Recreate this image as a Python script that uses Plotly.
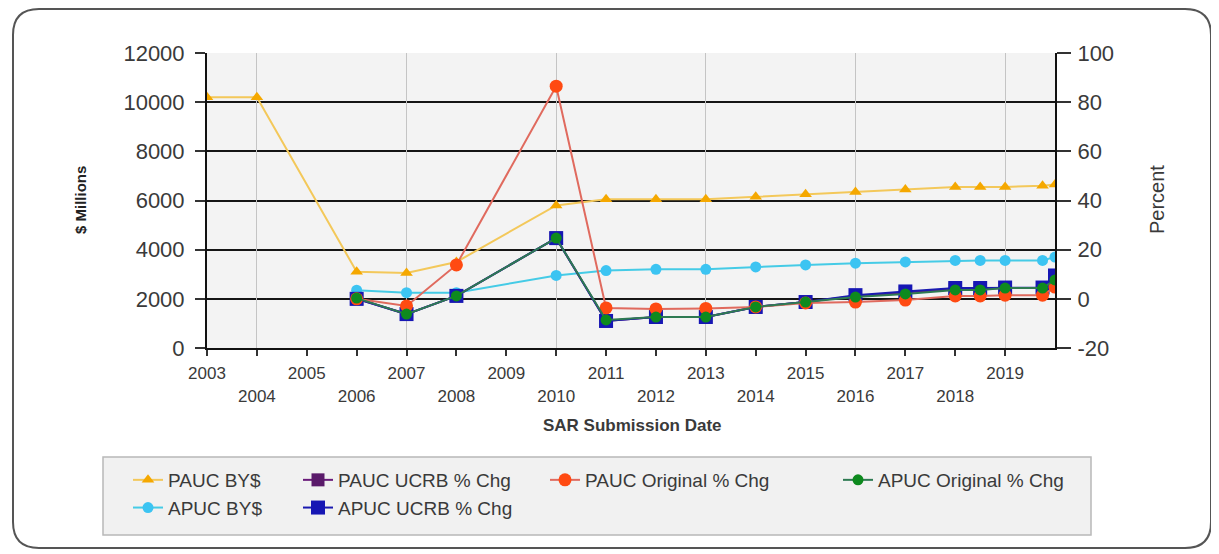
import plotly.graph_objects as go

# ---------------- data ----------------
tick_years = list(range(2003, 2020))
grid_years = [2004, 2007, 2010, 2013, 2016, 2019]

years_pauc = [2003, 2004, 2006, 2007, 2008, 2010, 2011, 2012, 2013, 2014, 2015, 2016, 2017, 2018, 2018.5, 2019, 2019.75, 2020]
pauc_bys = [10200, 10200, 3100, 3050, 3500, 5800, 6050, 6050, 6050, 6150, 6250, 6350, 6450, 6550, 6550, 6550, 6600, 6650]

years_other = [2006, 2007, 2008, 2010, 2011, 2012, 2013, 2014, 2015, 2016, 2017, 2018, 2018.5, 2019, 2019.75, 2020]
apuc_bys = [2350, 2250, 2250, 2950, 3150, 3200, 3200, 3300, 3380, 3450, 3500, 3560, 3560, 3560, 3560, 3700]
pauc_ucrb_pct = [0.0, -6.2, 1.2, 24.7, -9.0, -7.4, -7.4, -3.3, -1.3, 1.2, 2.6, 4.0, 4.0, 4.4, 4.4, 9.0]
apuc_ucrb_pct = [0.0, -6.2, 1.2, 24.7, -9.0, -7.4, -7.4, -3.3, -1.3, 1.5, 3.0, 4.4, 4.4, 4.6, 4.6, 9.5]
pauc_orig_pct = [0.0, -2.9, 13.8, 86.5, -3.7, -4.1, -3.9, -3.3, -1.7, -1.3, -0.5, 1.2, 1.2, 1.5, 1.5, 4.8]
apuc_orig_pct = [0.3, -6.2, 1.2, 24.7, -8.6, -7.4, -7.4, -3.3, -1.3, 0.7, 2.0, 3.6, 3.6, 4.4, 4.4, 7.7]

y_left_range = [0, 12000]
y_right_range = [-20, 100]
y_right_ticks = [-20, 0, 20, 40, 60, 80, 100]
y_right_labels = ["-20", "0", "20", "40", "60", "80", "100"]

# ---------------- figure geometry ----------------
OFF = 8                      # page body margin of the browser
W, H = 1219 - OFF, 554 - OFF
PL, PR, PT, PB = 207, 1055, 53, 348   # plot area in page pixels
PW, PH = PR - PL, PB - PT
L, T = PL - OFF, PT - OFF
R, B = W - (PR - OFF), H - (PB - OFF)


def px_x(p):
    return (p - PL) / PW


def px_y(p):
    return (PB - p) / PH


FONT = "Arial, Liberation Sans, sans-serif"
TXT = "#3a3a3a"

fig = go.Figure()

# dollar series (left axis)
fig.add_trace(go.Scatter(
    x=years_pauc, y=pauc_bys, name="PAUC BY$", mode="lines+markers",
    line=dict(color="#F3C85A", width=2),
    marker=dict(symbol="triangle-up", size=11, color="#F5A800"),
    legend="legend", xaxis="x", yaxis="y"))
fig.add_trace(go.Scatter(
    x=years_other, y=apuc_bys, name="APUC BY$", mode="lines+markers",
    line=dict(color="#45CBE6", width=2),
    marker=dict(symbol="circle", size=11, color="#3CC4F2"),
    legend="legend", xaxis="x", yaxis="y"))

# percent series (right axis)
fig.add_trace(go.Scatter(
    x=years_other, y=pauc_ucrb_pct, name="PAUC UCRB % Chg", mode="lines+markers",
    line=dict(color="#6A1B7A", width=2),
    marker=dict(symbol="square", size=13, color="#5A1A6A"),
    legend="legend2", xaxis="x", yaxis="y2"))
fig.add_trace(go.Scatter(
    x=years_other, y=apuc_ucrb_pct, name="APUC UCRB % Chg", mode="lines+markers",
    line=dict(color="#1A1AB0", width=2),
    marker=dict(symbol="square", size=14, color="#1616B4"),
    legend="legend2", xaxis="x", yaxis="y2"))
fig.add_trace(go.Scatter(
    x=years_other, y=pauc_orig_pct, name="PAUC Original % Chg", mode="lines+markers",
    line=dict(color="#E06A5E", width=2),
    marker=dict(symbol="circle", size=13, color="#FF4A12"),
    legend="legend3", xaxis="x", yaxis="y2"))
fig.add_trace(go.Scatter(
    x=years_other, y=apuc_orig_pct, name="APUC Original % Chg", mode="lines+markers",
    line=dict(color="#2E7A52", width=2),
    marker=dict(symbol="circle", size=11, color="#0E8A1E"),
    legend="legend4", xaxis="x", yaxis="y2"))

# empty helper trace so the overlay grid axis exists
fig.add_trace(go.Scatter(x=[], y=[], xaxis="x2", yaxis="y", showlegend=False, hoverinfo="skip"))

ticktext = [str(y) if i % 2 == 0 else "<br>" + str(y) for i, y in enumerate(tick_years)]

legend_common = dict(
    orientation="v", bgcolor="rgba(0,0,0,0)", borderwidth=0,
    font=dict(family=FONT, size=19, color=TXT),
    xanchor="left", yanchor="top", tracegroupgap=0, itemclick=False,
)
leg_y = px_y(461)

# outer rounded frame
fl, fr, ft, fb, rad = 13, 1211, 9, 548, 26
frame_path = (
    f"M {px_x(fl + rad)},{px_y(ft)} L {px_x(fr - rad)},{px_y(ft)} "
    f"Q {px_x(fr)},{px_y(ft)} {px_x(fr)},{px_y(ft + rad)} "
    f"L {px_x(fr)},{px_y(fb - rad)} Q {px_x(fr)},{px_y(fb)} {px_x(fr - rad)},{px_y(fb)} "
    f"L {px_x(fl + rad)},{px_y(fb)} Q {px_x(fl)},{px_y(fb)} {px_x(fl)},{px_y(fb - rad)} "
    f"L {px_x(fl)},{px_y(ft + rad)} Q {px_x(fl)},{px_y(ft)} {px_x(fl + rad)},{px_y(ft)} Z"
)

fig.update_layout(
    width=W, height=H,
    margin=dict(l=L, r=R, t=T, b=B, autoexpand=False),
    paper_bgcolor="white",
    plot_bgcolor="#F3F3F3",
    font=dict(family=FONT, color=TXT),
    xaxis=dict(
        range=[2003, 2020], tickmode="array", tickvals=tick_years, ticktext=ticktext,
        showgrid=False, zeroline=False,
        showline=True, linecolor="#111111", linewidth=2,
        ticks="outside", ticklen=6, tickcolor="#333333", tickwidth=1.5,
        ticklabelstandoff=3,
        tickfont=dict(family=FONT, size=17, color=TXT),
    ),
    xaxis2=dict(
        overlaying="x", range=[2003, 2020], tickmode="array", tickvals=grid_years,
        showgrid=True, gridcolor="#C4C4C4", gridwidth=1.2,
        showticklabels=False, ticks="", showline=False, zeroline=False,
    ),
    yaxis=dict(
        range=y_left_range, dtick=2000, tick0=0, tickformat="d",
        showgrid=True, gridcolor="#151515", gridwidth=1.6, zeroline=False,
        showline=True, linecolor="#111111", linewidth=2,
        ticks="outside", ticklen=10, tickcolor="#333333", tickwidth=1.5,
        ticklabelstandoff=6,
        tickfont=dict(family=FONT, size=22, color=TXT),
    ),
    yaxis2=dict(
        overlaying="y", side="right", range=y_right_range,
        tickmode="array", tickvals=y_right_ticks, ticktext=y_right_labels,
        showgrid=False, zeroline=False,
        showline=True, linecolor="#111111", linewidth=2,
        ticks="outside", ticklen=14, tickcolor="#333333", tickwidth=1.5,
        ticklabelstandoff=2,
        tickfont=dict(family=FONT, size=22, color=TXT),
    ),
    legend=dict(legend_common, x=px_x(128), y=leg_y),
    legend2=dict(legend_common, x=px_x(298), y=leg_y),
    legend3=dict(legend_common, x=px_x(545), y=leg_y),
    legend4=dict(legend_common, x=px_x(838), y=leg_y),
    shapes=[
        dict(type="path", xref="paper", yref="paper", path=frame_path,
             line=dict(color="#555555", width=2), fillcolor="rgba(0,0,0,0)", layer="below"),
        dict(type="rect", xref="paper", yref="paper",
             x0=px_x(103), x1=px_x(1091), y0=px_y(535), y1=px_y(457),
             line=dict(color="#B8B8B8", width=1.5), fillcolor="#F1F1F1", layer="below"),
    ],
    annotations=[
        dict(text="<b>$ Millions</b>", xref="paper", yref="paper",
             x=px_x(80), y=px_y(200), xanchor="center", yanchor="middle",
             textangle=-90, showarrow=False,
             font=dict(family=FONT, size=15, color="#222222")),
        dict(text="Percent", xref="paper", yref="paper",
             x=px_x(1157), y=px_y(200), xanchor="center", yanchor="middle",
             textangle=-90, showarrow=False,
             font=dict(family=FONT, size=20, color=TXT)),
        dict(text="<b>SAR Submission Date</b>", xref="paper", yref="paper",
             x=px_x(632), y=px_y(425), xanchor="center", yanchor="middle",
             showarrow=False,
             font=dict(family=FONT, size=17, color=TXT)),
    ],
)

fig.write_html("out.html")
